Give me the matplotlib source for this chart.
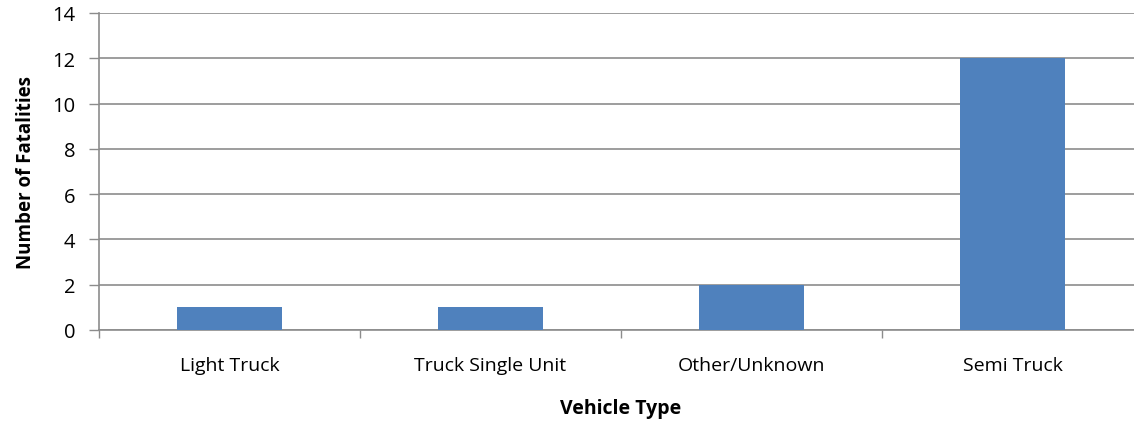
import matplotlib
matplotlib.use("Agg")
import matplotlib.pyplot as plt
import numpy as np

categories = ["Light Truck", "Truck Single Unit", "Other/Unknown", "Semi Truck"]
fatalities = [1, 1, 2, 12]

plt.rcParams["font.family"] = ["Open Sans", "DejaVu Sans"]
fig = plt.figure(figsize=(11.34, 4.27), dpi=100)
ax = fig.add_axes([99 / 1134, 96 / 427, 1044 / 1134, 317 / 427])

x = np.arange(len(categories))
ax.bar(x, fatalities, width=0.4, color="#4F81BD", zorder=3)

ax.set_xlim(-0.5, len(categories) - 0.5)
ax.set_ylim(0, 14)
ax.set_yticks(range(0, 15, 2))
ax.yaxis.grid(True, color="#8C8C8C", linewidth=1.2, zorder=0)

ax.set_xticks(x)
ax.set_xticklabels(categories, fontsize=14)
ax.set_xticks(np.arange(len(categories) + 1) - 0.5, minor=True)
ax.tick_params(axis="x", which="major", length=0, pad=19)
ax.tick_params(axis="x", which="minor", length=6, color="#8C8C8C", width=1)
ax.tick_params(axis="y", length=7, color="#8C8C8C", width=1, labelsize=14.5, pad=10)

for side in ["top", "right"]:
    ax.spines[side].set_visible(False)
for side in ["left", "bottom"]:
    ax.spines[side].set_color("#8C8C8C")
    ax.spines[side].set_linewidth(1.2)

ax.set_ylabel("Number of Fatalities", fontsize=13.5, fontweight="bold", labelpad=12)
ax.set_xlabel("Vehicle Type", fontsize=14, fontweight="bold", labelpad=17)

fig.savefig("out.png", dpi=100)
